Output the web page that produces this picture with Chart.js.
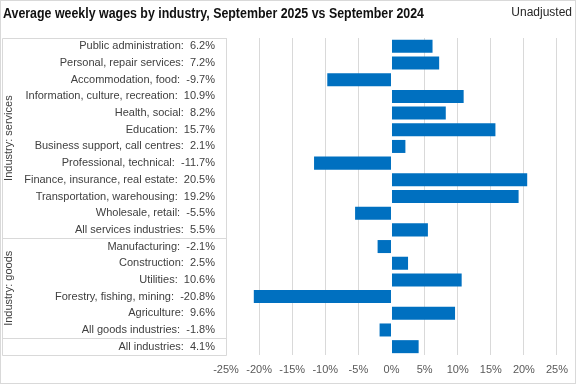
<!DOCTYPE html>
<html>
<head>
<meta charset="utf-8">
<script src="https://cdn.jsdelivr.net/npm/chart.js@4/dist/chart.umd.min.js"></script>
<style>
  html, body { margin: 0; padding: 0; background: #ffffff; }
  #wrap { width: 576px; height: 384px; position: relative; }
</style>
</head>
<body>
<div id="wrap"><canvas id="c" width="576" height="384"></canvas></div>
<script>
// ---- Data ----
const categories = [
  "Public administration",
  "Personal, repair services",
  "Accommodation, food",
  "Information, culture, recreation",
  "Health, social",
  "Education",
  "Business support, call centres",
  "Professional, technical",
  "Finance, insurance, real estate",
  "Transportation, warehousing",
  "Wholesale, retail",
  "All services industries",
  "Manufacturing",
  "Construction",
  "Utilities",
  "Forestry, fishing, mining",
  "Agriculture",
  "All goods industries",
  "All industries"
];
const changePct = [6.2, 7.2, -9.7, 10.9, 8.2, 15.7, 2.1, -11.7, 20.5, 19.2, -5.5, 5.5,
                   -2.1, 2.5, 10.6, -20.8, 9.6, -1.8, 4.1];
const groupNames = ["Industry: services", "Industry: goods"];
const groupRanges = [[0, 11], [12, 17]]; // inclusive index ranges
const xTicks = [-25, -20, -15, -10, -5, 0, 5, 10, 15, 20, 25];
const titleText = "Average weekly wages by industry, September 2025 vs September 2024";
const noteText = "Unadjusted";

const GRID = '#d9d9d9';
const FONT = '"Liberation Sans", Arial, sans-serif';

const decorPlugin = {
  id: 'decor',
  beforeDraw(chart) {
    const ctx = chart.ctx;
    ctx.save();
    ctx.fillStyle = '#ffffff';
    ctx.fillRect(0, 0, chart.width, chart.height);
    ctx.restore();
  },
  afterDraw(chart) {
    const ctx = chart.ctx;
    const area = chart.chartArea;
    const y = chart.scales.y;
    ctx.save();
    // outer border
    ctx.strokeStyle = GRID;
    ctx.lineWidth = 1;
    ctx.strokeRect(0.5, 0.5, chart.width - 1, chart.height - 1);
    // category box
    const bx0 = 2.5, bx1 = Math.round(area.left) + 0.5;
    const top = Math.round(area.top) + 0.5, bottom = Math.round(area.bottom) + 0.5;
    ctx.beginPath();
    ctx.moveTo(bx0, top); ctx.lineTo(bx1, top);
    ctx.moveTo(bx0, bottom); ctx.lineTo(bx1, bottom);
    ctx.moveTo(bx0, top); ctx.lineTo(bx0, bottom);
    ctx.moveTo(bx1, top); ctx.lineTo(bx1, bottom);
    // group dividers
    groupRanges.forEach(r => {
      const last = r[1];
      if (last < categories.length - 1) {
        const yy = Math.round((y.getPixelForValue(last) + y.getPixelForValue(last + 1)) / 2) + 0.5;
        ctx.moveTo(bx0, yy); ctx.lineTo(bx1, yy);
      }
    });
    ctx.stroke();
    // group labels
    ctx.fillStyle = '#404040';
    ctx.font = '11px ' + FONT;
    ctx.textAlign = 'center';
    ctx.textBaseline = 'middle';
    groupRanges.forEach((r, i) => {
      const yTop = r[0] === 0 ? area.top : (y.getPixelForValue(r[0]) + y.getPixelForValue(r[0] - 1)) / 2;
      const yBot = (y.getPixelForValue(r[1]) + y.getPixelForValue(r[1] + 1)) / 2;
      ctx.save();
      ctx.translate(9, (yTop + yBot) / 2);
      ctx.rotate(-Math.PI / 2);
      ctx.fillText(groupNames[i], 0, 0);
      ctx.restore();
    });
    // title (compressed horizontally to mimic a narrow face)
    ctx.fillStyle = '#111111';
    ctx.textAlign = 'left';
    ctx.textBaseline = 'alphabetic';
    ctx.font = 'bold 15px ' + FONT;
    const w = ctx.measureText(titleText).width;
    const targetW = 421;
    ctx.save();
    ctx.translate(3, 18);
    ctx.scale(Math.min(1, targetW / w), 1);
    ctx.fillText(titleText, 0, 0);
    ctx.restore();
    ctx.fillStyle = '#262626';
    ctx.textAlign = 'right';
    ctx.font = '12px ' + FONT;
    ctx.fillText(noteText, 572, 16);
    ctx.restore();
  }
};

new Chart(document.getElementById('c'), {
  type: 'bar',
  data: {
    labels: categories,
    datasets: [{
      data: changePct,
      backgroundColor: '#0070C0',
      borderWidth: 0,
      barPercentage: 0.78,
      categoryPercentage: 1.0
    }]
  },
  options: {
    indexAxis: 'y',
    responsive: false,
    animation: false,
    devicePixelRatio: 1,
    layout: { padding: { top: 38, left: 3, right: 18, bottom: 7 } },
    plugins: { legend: { display: false }, tooltip: { enabled: false }, title: { display: false } },
    scales: {
      x: {
        min: -25, max: 25,
        afterBuildTicks(scale) { scale.ticks = xTicks.map(v => ({ value: v })); },
        afterFit(scale) { scale.height = 22; },
        grid: {
          drawTicks: false,
          color: c => (c.tick && c.tick.value === 0) ? 'rgba(0,0,0,0)' : GRID
        },
        border: { display: false },
        ticks: {
          padding: 8,
          color: '#595959',
          font: { family: FONT, size: 11 },
          callback: v => v + '%'
        }
      },
      y: {
        afterFit(scale) { scale.width = 223; },
        grid: { display: false, drawTicks: false },
        border: { display: false },
        ticks: {
          autoSkip: false,
          padding: 11,
          color: '#404040',
          font: { family: FONT, size: 11 },
          callback: (v, i) => categories[i] + ':  ' + changePct[i].toFixed(1) + '%'
        }
      }
    }
  },
  plugins: [decorPlugin]
});
</script>
</body>
</html>
